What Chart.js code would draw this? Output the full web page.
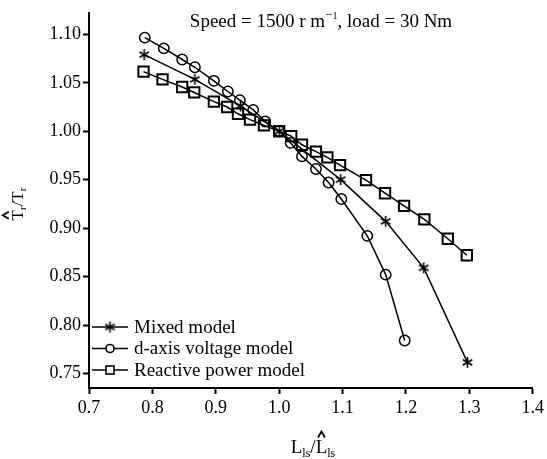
<!DOCTYPE html>
<html>
<head>
<meta charset="utf-8">
<script src="https://cdn.jsdelivr.net/npm/chart.js@4.4.0/dist/chart.umd.min.js"></script>
<style>
  body { margin: 0; background: #fff; }
  #wrap { width: 547px; height: 459px; }
</style>
</head>
<body>
<div id="wrap"><canvas id="torqueChart" width="547" height="459"></canvas></div>
<script>
// values
const mixedX = [0.787, 0.867, 0.939, 1.0, 1.097, 1.168, 1.228, 1.297];
const mixedY = [1.079, 1.0535, 1.026, 1.0, 0.950, 0.907, 0.859, 0.7615];

const dAxisX = [0.788, 0.818, 0.847, 0.867, 0.897, 0.919, 0.938, 0.959, 0.978, 1.0, 1.018, 1.036, 1.058, 1.078, 1.098, 1.139, 1.168, 1.198];
const dAxisY = [1.0966, 1.0855, 1.074, 1.066, 1.052, 1.041, 1.032, 1.022, 1.010, 1.0, 0.988, 0.974, 0.961, 0.947, 0.930, 0.892, 0.852, 0.784];

const reactiveX = [0.786, 0.816, 0.847, 0.866, 0.897, 0.918, 0.935, 0.954, 0.976, 1.0, 1.019, 1.036, 1.058, 1.076, 1.096, 1.137, 1.167, 1.197, 1.229, 1.266, 1.296];
const reactiveY = [1.0615, 1.0535, 1.0456, 1.040, 1.0305, 1.025, 1.018, 1.012, 1.006, 1.0, 0.995, 0.986, 0.979, 0.973, 0.965, 0.9495, 0.936, 0.923, 0.909, 0.889, 0.872];

const seriesNames = ['Mixed model', 'd-axis voltage model', 'Reactive power model'];
const xTicks = [0.7, 0.8, 0.9, 1.0, 1.1, 1.2, 1.3, 1.4];
const yTicks = [0.75, 0.80, 0.85, 0.90, 0.95, 1.00, 1.05, 1.10];

const SERIF = '"Liberation Serif", "Times New Roman", serif';

// six-armed asterisk marker
function makeStar() {
    const c = document.createElement('canvas');
    c.width = 13; c.height = 13;
    const g = c.getContext('2d');
    g.strokeStyle = '#000';
    g.lineWidth = 1.6;
    const r = 5.5;
    g.beginPath();
    for (let k = 0; k < 3; k++) {
        const a = Math.PI / 2 + k * Math.PI / 3;
        g.moveTo(6.5 + r * Math.cos(a), 6.5 + r * Math.sin(a));
        g.lineTo(6.5 - r * Math.cos(a), 6.5 - r * Math.sin(a));
    }
    g.stroke();
    return c;
}
const starImg = makeStar();

function toPoints(xs, ys) {
    return xs.map((x, i) => ({ x: x, y: ys[i] }));
}

// draws text runs (with sub/superscripts and hats)
function drawRuns(ctx, runs, x, y, center) {
    let total = 0;
    runs.forEach(r => {
        ctx.font = r.s + 'px ' + SERIF;
        r.w = ctx.measureText(r.t).width;
        total += r.w;
    });
    let cx = center ? x - total / 2 : x;
    ctx.textAlign = 'left';
    ctx.textBaseline = 'alphabetic';
    runs.forEach(r => {
        ctx.font = r.s + 'px ' + SERIF;
        ctx.fillText(r.t, cx, y + (r.dy || 0));
        if (r.hat) {
            const mid = cx + r.w / 2;
            const top = y - r.s * 0.66 - 3;
            ctx.save();
            ctx.lineWidth = 1.8;
            ctx.beginPath();
            ctx.moveTo(mid - 3.5, top);
            ctx.lineTo(mid, top - 6);
            ctx.lineTo(mid + 3.5, top);
            ctx.stroke();
            ctx.restore();
        }
        cx += r.w;
    });
}

const textPlugin = {
    id: 'textPlugin',
    afterDraw(chart) {
        const ctx = chart.ctx;
        ctx.save();
        ctx.fillStyle = '#000';
        ctx.strokeStyle = '#000';

        // title inside the plot
        drawRuns(ctx, [
            { t: 'Speed = 1500 r m', s: 19 },
            { t: '\u2212', s: 13, dy: -8 },
            { t: '1', s: 10, dy: -8 },
            { t: ', load = 30 Nm', s: 19 }
        ], 321, 27, true);

        // x axis title
        drawRuns(ctx, [
            { t: 'L', s: 19 },
            { t: 'ls', s: 12, dy: 4 },
            { t: '/', s: 19 },
            { t: 'L', s: 19, hat: true },
            { t: 'ls', s: 12, dy: 4 }
        ], 313, 453, true);

        // y axis title (rotated)
        ctx.save();
        ctx.translate(23, 204);
        ctx.rotate(-Math.PI / 2);
        drawRuns(ctx, [
            { t: 'T', s: 17, hat: true },
            { t: 'r', s: 11, dy: 3 },
            { t: '/', s: 17 },
            { t: 'T', s: 17 },
            { t: 'r', s: 11, dy: 3 }
        ], 0, 0, true);
        ctx.restore();

        // legend in lower left corner
        chart.data.datasets.forEach((ds, i) => {
            const ly = 327 + 21.5 * i;
            ctx.lineWidth = 1.6;
            ctx.beginPath();
            ctx.moveTo(92, ly);
            ctx.lineTo(128, ly);
            ctx.stroke();
            if (ds.pointStyle === 'circle') {
                ctx.fillStyle = '#fff';
                ctx.beginPath();
                ctx.arc(110, ly, 4, 0, Math.PI * 2);
                ctx.fill();
                ctx.stroke();
            } else if (ds.pointStyle === 'rect') {
                ctx.fillStyle = '#fff';
                ctx.fillRect(106, ly - 4, 8, 8);
                ctx.strokeRect(106, ly - 4, 8, 8);
            } else {
                ctx.drawImage(starImg, 110 - 6.5, ly - 6.5);
            }
            ctx.fillStyle = '#000';
            ctx.font = '19px ' + SERIF;
            ctx.textAlign = 'left';
            ctx.textBaseline = 'middle';
            ctx.fillText(ds.label, 134, ly + 1);
        });
        ctx.restore();
    }
};

function initTorqueChart() {
    const ctx = document.getElementById('torqueChart').getContext('2d');
    new Chart(ctx, {
        type: 'scatter',
        data: {
            datasets: [{
                label: seriesNames[0],
                data: toPoints(mixedX, mixedY),
                showLine: true,
                borderColor: '#000',
                borderWidth: 1.5,
                pointStyle: starImg,
                pointRadius: 6,
                tension: 0
            }, {
                label: seriesNames[1],
                data: toPoints(dAxisX, dAxisY),
                showLine: true,
                borderColor: '#000',
                borderWidth: 1.5,
                pointStyle: 'circle',
                pointRadius: 5.2,
                pointBorderWidth: 1.5,
                pointBackgroundColor: 'rgba(0,0,0,0)',
                tension: 0
            }, {
                label: seriesNames[2],
                data: toPoints(reactiveX, reactiveY),
                showLine: true,
                borderColor: '#000',
                borderWidth: 1.5,
                pointStyle: 'rect',
                pointRadius: 7.3,
                pointBorderWidth: 2,
                pointBackgroundColor: 'rgba(0,0,0,0)',
                tension: 0
            }]
        },
        options: {
            responsive: false,
            animation: false,
            layout: { padding: { top: 13, right: 12, left: 0, bottom: 0 } },
            plugins: {
                legend: { display: false },
                tooltip: { enabled: false }
            },
            scales: {
                x: {
                    type: 'linear',
                    min: 0.7,
                    max: 1.4,
                    afterFit: s => { s.height = 71; },
                    afterBuildTicks: s => { s.ticks = xTicks.map(v => ({ value: v })); },
                    grid: { drawOnChartArea: false, drawTicks: true, tickLength: 6, tickWidth: 2, tickColor: '#000' },
                    border: { display: true, color: '#000', width: 2 },
                    ticks: {
                        color: '#000',
                        padding: 3,
                        maxRotation: 0,
                        font: { family: SERIF, size: 18 },
                        callback: v => Number(v).toFixed(1)
                    }
                },
                y: {
                    type: 'linear',
                    min: 0.735,
                    max: 1.122,
                    afterFit: s => { s.width = 89; },
                    afterBuildTicks: s => { s.ticks = yTicks.map(v => ({ value: v })); },
                    grid: { drawOnChartArea: false, drawTicks: true, tickLength: 6, tickWidth: 2, tickColor: '#000' },
                    border: { display: true, color: '#000', width: 2 },
                    ticks: {
                        color: '#000',
                        padding: 2,
                        font: { family: SERIF, size: 18 },
                        callback: v => Number(v).toFixed(2)
                    }
                }
            }
        },
        plugins: [textPlugin]
    });
}

window.onload = function() {
    initTorqueChart();
};
</script>
</body>
</html>
